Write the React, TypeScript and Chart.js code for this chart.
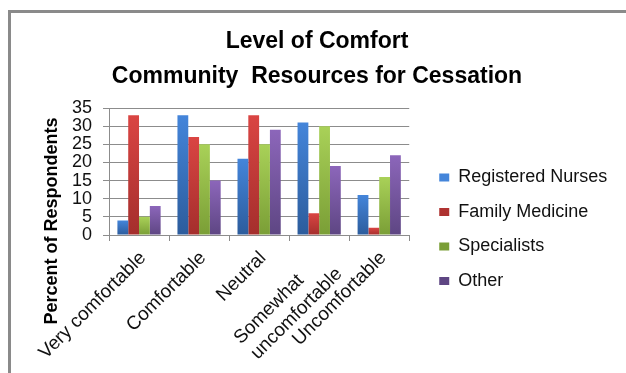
import React, { useEffect, useRef } from 'react';
import { Chart, registerables } from 'chart.js';

Chart.register(...registerables);

// ---- data ----
const categories: (string | string[])[] = [
  'Very comfortable',
  'Comfortable',
  'Neutral',
  ['Somewhat      ', 'uncomfortable'],
  'Uncomfortable',
];
const seriesNames = ['Registered Nurses', 'Family Medicine', 'Specialists', 'Other'];
const registeredNurses = [4, 33, 21, 31, 11];
const familyMedicine = [33, 27, 33, 6, 2];
const specialists = [5, 25, 25, 30, 16];
const other = [8, 15, 29, 19, 22];
const yMin = 0;
const yMax = 35;
const yStep = 5;
const titleLines = ['Level of Comfort', 'Community  Resources for Cessation'];
const yAxisTitle = 'Percent of Respondents';

// ---- styles ----
const FONT = "'Liberation Sans', Arial, Helvetica, sans-serif";
const GRID = '#8c8c8c';
const palette = [
  { top: '#4485DA', bottom: '#2C5C9C', solid: '#3A75C4' },
  { top: '#DA4543', bottom: '#A42E2C', solid: '#C43A38' },
  { top: '#A9D158', bottom: '#7A9E36', solid: '#92BE48' },
  { top: '#8C66BA', bottom: '#5E4683', solid: '#7552A0' },
];

const makeBg = (p: { top: string; bottom: string; solid: string }) => (ctx: any) => {
  if (ctx.type !== 'data') return p.solid;
  const chart = ctx.chart;
  const ys = chart.scales && chart.scales.y;
  if (!ys) return p.solid;
  const v = Number(ctx.raw);
  const yTop = ys.getPixelForValue(v);
  const yBase = ys.getPixelForValue(0);
  if (!isFinite(yTop) || !isFinite(yBase) || Math.abs(yBase - yTop) < 1) return p.solid;
  const g = chart.ctx.createLinearGradient(0, yTop, 0, yBase);
  g.addColorStop(0, p.top);
  g.addColorStop(1, p.bottom);
  return g;
};

const framePlugin = {
  id: 'frame',
  beforeDraw(chart: any) {
    const c = chart.ctx;
    c.save();
    c.fillStyle = '#ffffff';
    c.fillRect(0, 0, chart.width, chart.height);
    c.fillStyle = '#8a8a8a';
    c.fillRect(8, 10, chart.width - 8, 3);
    c.fillRect(8, 10, 3, chart.height - 10);
    c.restore();
  },
};

const yTitlePlugin = {
  id: 'yTitle',
  afterDraw(chart: any) {
    const c = chart.ctx;
    c.save();
    c.translate(52, 221);
    c.rotate(-Math.PI / 2);
    c.font = `bold 18px ${FONT}`;
    c.fillStyle = '#000';
    c.textAlign = 'center';
    c.textBaseline = 'middle';
    c.fillText(yAxisTitle, 0, 0);
    c.restore();
  },
};

const seriesValues = [registeredNurses, familyMedicine, specialists, other];

export default function App() {
  const ref = useRef<HTMLCanvasElement>(null);
  useEffect(() => {
    if (!ref.current) return;
    const chart = new Chart(ref.current, {
      type: 'bar',
      data: {
        labels: categories as any,
        datasets: seriesNames.map((name, i) => ({
          label: name,
          data: seriesValues[i],
          backgroundColor: makeBg(palette[i]) as any,
          borderWidth: 0,
          categoryPercentage: 0.72,
          barPercentage: 1.0,
        })),
      },
      options: {
        animation: false,
        responsive: false,
        devicePixelRatio: 1,
        layout: { padding: { left: 16.7, right: 8.7, top: 0, bottom: 0 } },
        plugins: {
          title: {
            display: true,
            text: titleLines,
            color: '#000',
            font: { family: FONT, size: 23, weight: 'bold', lineHeight: 35 / 23 },
            padding: { top: 24, bottom: 14 },
          },
          legend: {
            position: 'right',
            align: 'center',
            maxWidth: 300,
            title: {
              display: true,
              text: '',
              font: { size: 10, lineHeight: 1 },
              padding: { top: 37.75, bottom: 37.75 },
            },
            labels: {
              boxWidth: 10,
              boxHeight: 8,
              padding: 16.5,
              color: '#111',
              font: { family: FONT, size: 18 },
            },
          },
          tooltip: { enabled: false },
        },
        scales: {
          x: {
            grid: { drawOnChartArea: false, drawTicks: true, tickLength: 6, color: GRID, offset: true },
            border: { color: GRID },
            ticks: {
              maxRotation: 45,
              minRotation: 45,
              autoSkip: false,
              padding: 6,
              labelOffset: 4,
              color: '#111',
              font: { family: FONT, size: 19 },
            },
            afterFit: (s: any) => {
              s.height = 138;
            },
          },
          y: {
            min: yMin,
            max: yMax,
            grid: { color: GRID, tickLength: 6 },
            border: { color: GRID },
            ticks: {
              stepSize: yStep,
              autoSkip: false,
              padding: 11,
              color: '#111',
              font: { family: FONT, size: 18, lineHeight: 1 },
            },
            afterFit: (s: any) => {
              s.width = 92.3;
            },
          },
          gap: {
            type: 'linear',
            position: 'right',
            display: true,
            grid: { display: false, drawTicks: false },
            border: { display: false },
            ticks: { display: false },
            afterFit: (s: any) => {
              s.width = 13.5;
            },
          },
        },
      } as any,
      plugins: [framePlugin, yTitlePlugin],
    });
    return () => chart.destroy();
  }, []);
  return (
    <div style={{ position: 'absolute', left: 0, top: 0, width: 626, height: 373 }}>
      <canvas ref={ref} width={626} height={373} style={{ display: 'block' }} />
    </div>
  );
}
